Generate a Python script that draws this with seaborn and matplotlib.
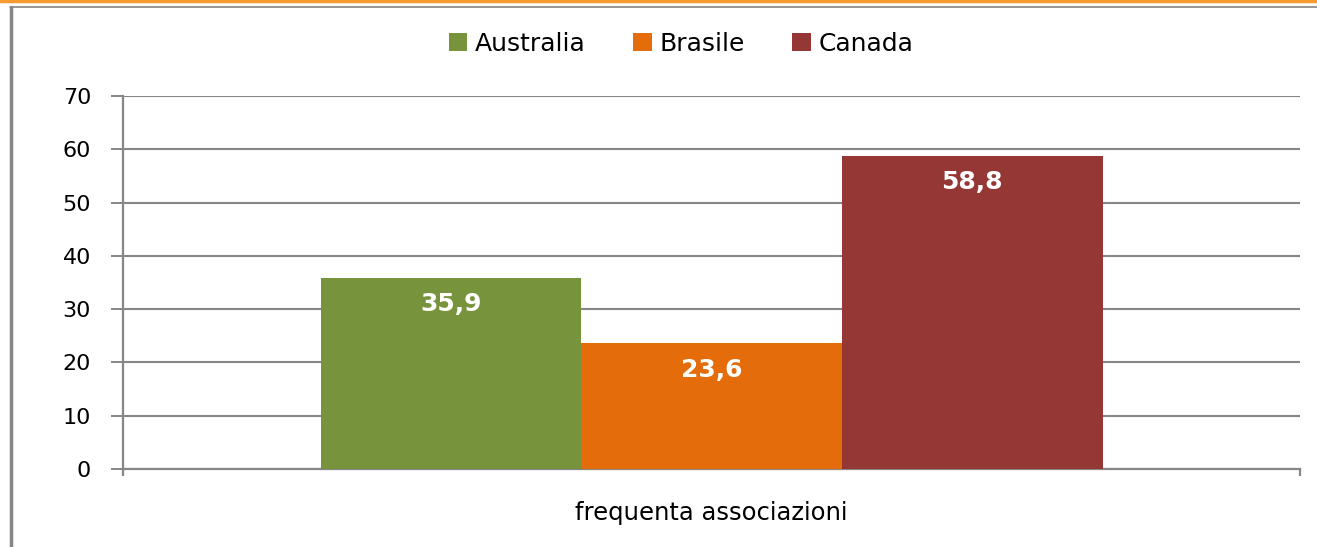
import matplotlib
matplotlib.use("Agg")
import matplotlib.pyplot as plt
import pandas as pd
import seaborn as sns
from matplotlib.lines import Line2D

# data
category = ["frequenta associazioni"]
countries = ["Australia", "Brasile", "Canada"]
values = [35.9, 23.6, 58.8]
colors = ["#77933C", "#E46C0A", "#953735"]
y_ticks = [0, 10, 20, 30, 40, 50, 60, 70]

df = pd.DataFrame({
    "categoria": category * len(countries),
    "paese": countries,
    "valore": values,
})

sns.set_theme(style="white")
plt.rcParams["font.family"] = ["DejaVu Sans"]
plt.rcParams["text.color"] = "black"

grid_col = "#868686"

fig = plt.figure(figsize=(13.17, 5.47), dpi=100)
ax = fig.add_axes([0.0934, 0.1426, 0.894, 0.682])

sns.barplot(data=df, x="categoria", y="valore", hue="paese",
            palette=colors, width=0.664, saturation=1, ax=ax,
            edgecolor="none", linewidth=0, zorder=3)

ax.set_ylim(0, 70)
ax.set_xlim(-0.5, 0.5)
ax.set_yticks(y_ticks)
ax.yaxis.grid(True, color=grid_col, linewidth=1.5, zorder=0)
ax.xaxis.grid(False)
ax.set_axisbelow(True)
for side in ["top", "right"]:
    ax.spines[side].set_visible(False)
for side in ["left", "bottom"]:
    ax.spines[side].set_color(grid_col)
    ax.spines[side].set_linewidth(1.6)

ax.tick_params(axis="y", which="major", left=True, direction="out", length=9,
               width=1.4, color=grid_col, labelsize=16, labelcolor="black", pad=14)
ax.set_xticks([0])
ax.set_xticklabels(category)
ax.tick_params(axis="x", which="major", bottom=False, labelsize=17.5,
               labelcolor="black", pad=17)
ax.set_xticks([-0.5, 0.5], minor=True)
ax.tick_params(axis="x", which="minor", bottom=True, direction="out", length=5,
               width=1.6, color=grid_col)
ax.set_xlabel("")
ax.set_ylabel("")

# value labels, white bold inside the top of each bar
for patch, v in zip(ax.patches, values):
    ax.annotate(f"{v}".replace(".", ","),
                xy=(patch.get_x() + patch.get_width() / 2, patch.get_height()),
                xytext=(0, -19), textcoords="offset points",
                ha="center", va="center", color="white",
                fontsize=18, fontweight="bold", zorder=4)

leg = ax.legend(loc="center", bbox_to_anchor=(681 / 1317, 1 - 44 / 547),
                bbox_transform=fig.transFigure, ncol=3, frameon=False,
                fontsize=18, handlelength=0.75, handleheight=0.75,
                handletextpad=0.3, columnspacing=1.9)
for t in leg.get_texts():
    t.set_color("black")

# frame decorations of the original picture
fig.add_artist(Line2D([0, 1], [1 - 1 / 547, 1 - 1 / 547], color="#F79B31",
                      linewidth=2.5, transform=fig.transFigure))
fig.add_artist(Line2D([10 / 1317, 1], [1 - 7 / 547, 1 - 7 / 547], color=grid_col,
                      linewidth=1.2, transform=fig.transFigure))
fig.add_artist(Line2D([11 / 1317, 11 / 1317], [0, 1 - 7 / 547], color=grid_col,
                      linewidth=2.5, transform=fig.transFigure))

fig.savefig("out.png", dpi=100)
